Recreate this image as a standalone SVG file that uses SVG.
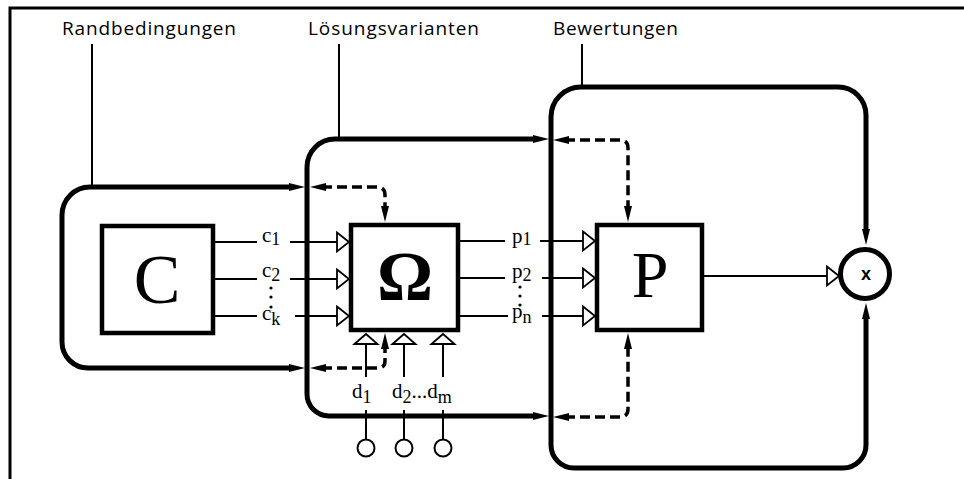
<svg xmlns="http://www.w3.org/2000/svg" width="964" height="479" viewBox="0 0 964 479">
<style>
.lbl{font-family:"Open Sans","Liberation Sans",sans-serif;font-size:19px;fill:#000}
.sig{font-family:"Liberation Serif",serif;font-size:21px;fill:#000}
.sub{font-size:18px}
.big{font-family:"Liberation Serif",serif;fill:#000;text-anchor:middle}
.cont{fill:none;stroke:#000;stroke-width:5;stroke-linejoin:round}
.box{fill:#fff;stroke:#000;stroke-width:4.5}
.thin{fill:none;stroke:#000;stroke-width:2}
.dash{fill:none;stroke:#000;stroke-width:3.5;stroke-dasharray:10 5}
</style>
<defs>
<marker id="fa" viewBox="0 -5 18 10" refX="4" refY="0" markerWidth="18" markerHeight="10" markerUnits="userSpaceOnUse" orient="auto-start-reverse" overflow="visible"><path d="M0,-4 L16,0 L0,4 Z" fill="#000"/></marker>
<marker id="oa" viewBox="-2 -12 16 24" refX="12" refY="0" markerWidth="16" markerHeight="24" markerUnits="userSpaceOnUse" orient="auto" overflow="visible"><path d="M0,-9.5 L12,0 L0,9.5 Z" fill="#fff" stroke="#000" stroke-width="1.8"/></marker>
<marker id="ob" viewBox="-2 -13 14 26" refX="10" refY="0" markerWidth="14" markerHeight="26" markerUnits="userSpaceOnUse" orient="auto" overflow="visible"><path d="M0,-11.5 L10,0 L0,11.5 Z" fill="#fff" stroke="#000" stroke-width="1.8"/></marker>
</defs>
<rect width="964" height="479" fill="#fff"/>
<g id="frame"><path d="M10,479 V8 H964" fill="none" stroke="#000" stroke-width="3"/></g>
<g id="labels">
<text class="lbl" x="62" y="35" textLength="174" lengthAdjust="spacing">Randbedingungen</text>
<text class="lbl" x="308" y="35" textLength="171" lengthAdjust="spacing">Lösungsvarianten</text>
<text class="lbl" x="553" y="35" textLength="125" lengthAdjust="spacing">Bewertungen</text>
<path class="thin" d="M92,44 V187 M339,44 V139 M582,44 V87"/>
</g>
<g id="container-C"><path class="cont" d="M293,187 H90 A28,28 0 0 0 62,215 V342 A26,26 0 0 0 88,368 H293" marker-start="url(#fa)" marker-end="url(#fa)"/></g>
<g id="container-Omega"><path class="cont" d="M537,139 H335 A28,28 0 0 0 307,167 V394 A22,22 0 0 0 329,416 H537" marker-start="url(#fa)" marker-end="url(#fa)"/></g>
<g id="container-P"><path class="cont" d="M866,233 V115 A28,28 0 0 0 838,87 H581 A30,30 0 0 0 551,117 V445 A23,23 0 0 0 574,468 H843 A23,23 0 0 0 866,445 V315" marker-start="url(#fa)" marker-end="url(#fa)"/></g>
<g id="connectors">
<path class="dash" d="M322,187 H377 Q385,187 385,195 V210" marker-start="url(#fa)" marker-end="url(#fa)"/>
<path class="dash" d="M322,368 H378 Q385,368 385,361 V345" marker-start="url(#fa)" marker-end="url(#fa)"/>
<path class="dash" d="M565,140 H620 Q628,140 628,148 V210" marker-start="url(#fa)" marker-end="url(#fa)"/>
<path class="dash" d="M565,417 H620 Q628,417 628,409 V345" marker-start="url(#fa)" marker-end="url(#fa)"/>
<path class="thin" d="M213,242 H257 M213,279 H257 M213,316 H257"/>
<path class="thin" d="M290,242 H349" marker-end="url(#oa)"/>
<path class="thin" d="M290,279 H349" marker-end="url(#oa)"/>
<path class="thin" d="M295,316 H349" marker-end="url(#oa)"/>
<path class="thin" d="M458,241 H505 M458,278 H505 M458,316 H508"/>
<path class="thin" d="M540,241 H595" marker-end="url(#oa)"/>
<path class="thin" d="M542,278 H595" marker-end="url(#oa)"/>
<path class="thin" d="M542,316 H595" marker-end="url(#oa)"/>
<path class="thin" d="M702,276 H839" marker-end="url(#oa)"/>
<path class="thin" d="M366,377 V334" marker-end="url(#ob)"/>
<path class="thin" d="M404,377 V334" marker-end="url(#ob)"/>
<path class="thin" d="M443,377 V334" marker-end="url(#ob)"/>
<path class="thin" d="M366,410 V439.5 M404,410 V439.5 M443,410 V439.5"/>
</g>
<g id="node-C"><rect class="box" x="102" y="226" width="111" height="107"/><text class="big" x="157" y="303" font-size="70">C</text></g>
<g id="node-Omega"><rect class="box" x="351" y="225" width="107" height="105"/><text class="big" x="405" y="300" font-size="70" font-weight="bold">Ω</text></g>
<g id="node-P"><rect class="box" x="597" y="225" width="105" height="105"/><text class="big" x="650" y="297" font-size="66">P</text></g>
<g id="node-x"><circle cx="865" cy="274" r="24.5" fill="#fff" stroke="#000" stroke-width="5"/><text x="866" y="280" font-family="Liberation Sans,sans-serif" font-size="18" font-weight="bold" text-anchor="middle">x</text></g>
<g id="inputs">
<circle cx="366" cy="448" r="8.5" fill="#fff" stroke="#000" stroke-width="2"/>
<circle cx="404" cy="448" r="8.5" fill="#fff" stroke="#000" stroke-width="2"/>
<circle cx="443" cy="448" r="8.5" fill="#fff" stroke="#000" stroke-width="2"/>
</g>
<g id="signal-labels">
<text class="sig" x="262" y="242">c<tspan class="sub" dy="3">1</tspan></text>
<text class="sig" x="262" y="277">c<tspan class="sub" dy="4">2</tspan></text>
<text class="sig" x="262" y="320">c<tspan class="sub" dy="5">k</tspan></text>
<circle cx="271" cy="288" r="1.6"/><circle cx="271" cy="297" r="1.6"/><circle cx="271" cy="307" r="1.6"/>
<text class="sig" x="512" y="243">p<tspan class="sub" dy="2">1</tspan></text>
<text class="sig" x="512" y="278">p<tspan class="sub" dy="3">2</tspan></text>
<text class="sig" x="512" y="318">p<tspan class="sub" dy="5">n</tspan></text>
<circle cx="520" cy="287" r="1.6"/><circle cx="520" cy="296" r="1.6"/><circle cx="520" cy="305" r="1.6"/>
<text class="sig" x="352" y="398">d<tspan class="sub" dy="5">1</tspan></text>
<text class="sig" x="392" y="398">d<tspan class="sub" dy="5">2</tspan><tspan dy="-5">...</tspan>d<tspan class="sub" dy="5" font-size="20">m</tspan></text>
</g>
</svg>
